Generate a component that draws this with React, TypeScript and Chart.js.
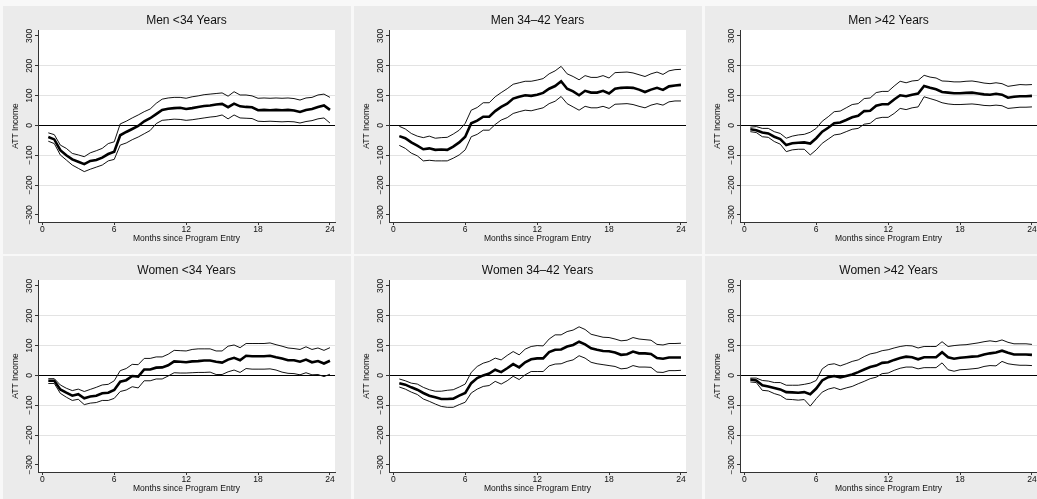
import React, { useEffect, useRef } from "react";
import { Chart, registerables } from "chart.js";

Chart.register(...registerables);

// ---------- data ----------
const months = [0.5, 1, 1.5, 2, 2.5, 3, 3.5, 4, 4.5, 5, 5.5, 6, 6.5, 7, 7.5, 8, 8.5, 9, 9.5, 10, 10.5, 11, 11.5, 12, 12.5, 13, 13.5, 14, 14.5, 15, 15.5, 16, 16.5, 17, 17.5, 18, 18.5, 19, 19.5, 20, 20.5, 21, 21.5, 22, 22.5, 23, 23.5, 24];

const xTicks = [0, 6, 12, 18, 24];
const xTickLabels = ["0", "6", "12", "18", "24"];
const yTicks = [-300, -200, -100, 0, 100, 200, 300];
const yTickLabels = ["\u2212300", "\u2212200", "\u2212100", "0", "100", "200", "300"];
const xAxisTitle = "Months since Program Entry";
const yAxisTitle = "ATT Income";

const panelTitles = ["Men <34 Years", "Men 34\u201342 Years", "Men >42 Years", "Women <34 Years", "Women 34\u201342 Years", "Women >42 Years"];

const menYoungMean = [-39, -47, -83, -100, -114, -122, -130, -119, -116, -108, -96, -88, -33, -22, -12, -2, 14, 24, 38, 52, 56, 58, 59, 55, 58, 62, 65, 67, 70, 72, 61, 73, 64, 62, 61, 51, 52, 51, 52, 51, 52, 50, 45, 52, 55, 62, 67, 52];
const menYoungUpper = [-25, -31, -66, -77, -94, -99, -105, -92, -85, -77, -61, -55, 5, 14, 25, 35, 46, 55, 74, 88, 92, 94, 94, 91, 96, 99, 103, 105, 107, 109, 98, 113, 102, 102, 99, 91, 92, 91, 92, 91, 92, 90, 85, 92, 94, 102, 105, 94];
const menYoungLower = [-53, -61, -99, -116, -133, -144, -155, -147, -140, -133, -119, -114, -66, -59, -48, -39, -28, -17, 6, 17, 19, 21, 20, 17, 19, 22, 25, 28, 30, 35, 22, 35, 25, 24, 23, 14, 13, 14, 13, 12, 13, 12, 8, 13, 16, 22, 25, 8];

const menMidMean = [-36, -43, -57, -68, -80, -77, -82, -81, -82, -71, -57, -38, 7, 16, 29, 29, 48, 62, 73, 90, 96, 101, 99, 103, 109, 123, 132, 148, 123, 114, 101, 116, 110, 110, 116, 107, 123, 126, 127, 126, 120, 112, 120, 126, 119, 131, 134, 136];
const menMidUpper = [-3, -12, -27, -36, -41, -36, -43, -41, -40, -29, -16, 7, 51, 60, 76, 76, 96, 110, 123, 138, 143, 148, 148, 152, 157, 173, 183, 198, 173, 164, 153, 167, 161, 161, 167, 159, 177, 178, 179, 176, 170, 164, 173, 179, 171, 183, 187, 188];
const menMidLower = [-67, -77, -93, -102, -119, -117, -119, -119, -119, -110, -99, -82, -38, -30, -16, -16, 3, 18, 26, 40, 46, 51, 49, 54, 59, 73, 81, 97, 73, 62, 51, 64, 59, 59, 64, 57, 71, 72, 73, 70, 64, 59, 68, 73, 68, 79, 82, 82];

const menOldMean = [-13, -16, -24, -27, -38, -46, -66, -60, -58, -57, -61, -43, -21, -8, 7, 10, 18, 27, 32, 48, 49, 66, 71, 71, 87, 101, 98, 103, 107, 132, 126, 121, 112, 110, 108, 108, 109, 110, 107, 104, 103, 106, 103, 93, 96, 98, 98, 99];
const menOldUpper = [-6, -4, -10, -10, -21, -27, -43, -36, -32, -30, -23, -10, 14, 29, 46, 48, 59, 70, 73, 90, 92, 110, 114, 114, 132, 148, 143, 149, 151, 168, 162, 159, 149, 148, 146, 146, 148, 149, 146, 142, 140, 143, 140, 131, 134, 137, 136, 137];
const menOldLower = [-21, -24, -38, -40, -54, -63, -88, -82, -80, -80, -99, -82, -60, -46, -32, -29, -21, -13, -10, 4, 7, 23, 27, 27, 40, 57, 53, 59, 62, 96, 90, 84, 76, 72, 70, 70, 71, 72, 70, 67, 66, 68, 66, 57, 59, 61, 61, 62];

const womenYoungMean = [-18, -18, -47, -58, -68, -63, -77, -71, -68, -60, -58, -49, -21, -16, -2, -4, 20, 20, 26, 27, 34, 47, 46, 44, 47, 48, 50, 50, 46, 43, 53, 59, 51, 66, 64, 64, 64, 66, 61, 57, 51, 51, 46, 53, 44, 48, 40, 49];
const womenYoungUpper = [-11, -11, -32, -43, -51, -46, -54, -47, -40, -32, -30, -18, 16, 23, 37, 36, 57, 57, 62, 62, 71, 84, 83, 82, 87, 89, 89, 89, 82, 82, 98, 102, 93, 107, 107, 107, 107, 109, 103, 98, 92, 90, 87, 96, 87, 92, 84, 93];
const womenYoungLower = [-27, -27, -60, -73, -84, -80, -98, -93, -91, -84, -84, -77, -54, -49, -38, -42, -18, -18, -12, -12, -2, 9, 8, 8, 9, 10, 10, 11, 3, 3, 12, 18, 10, 23, 21, 21, 21, 22, 18, 11, 7, 6, 2, 9, 2, 3, -4, 4];

const womenMidMean = [-26, -31, -40, -48, -59, -68, -73, -79, -79, -78, -68, -59, -26, -9, 0, 6, 19, 11, 24, 38, 27, 44, 54, 57, 57, 78, 86, 87, 97, 102, 113, 104, 91, 86, 82, 81, 77, 69, 71, 80, 74, 74, 72, 58, 56, 60, 60, 60];
const womenMidUpper = [-12, -18, -26, -29, -40, -48, -53, -53, -50, -48, -39, -29, 10, 30, 41, 47, 58, 52, 67, 80, 69, 88, 97, 100, 99, 122, 136, 136, 147, 152, 163, 154, 138, 133, 128, 127, 122, 116, 118, 127, 122, 120, 118, 104, 102, 107, 107, 108];
const womenMidLower = [-39, -46, -56, -64, -79, -87, -96, -104, -107, -107, -98, -90, -59, -46, -37, -34, -20, -29, -18, -3, -14, 2, 13, 13, 13, 32, 38, 39, 47, 52, 66, 58, 44, 39, 36, 33, 30, 22, 24, 33, 28, 28, 27, 11, 10, 16, 16, 17];

const womenOldMean = [-14, -17, -33, -37, -42, -47, -56, -57, -58, -56, -63, -44, -17, -6, -2, -7, -2, 3, 11, 20, 28, 33, 42, 44, 52, 58, 63, 61, 54, 61, 61, 61, 78, 61, 56, 59, 61, 63, 64, 70, 74, 77, 83, 76, 70, 70, 70, 69];
const womenOldUpper = [-9, -9, -17, -19, -24, -24, -33, -33, -33, -30, -26, -17, 22, 36, 39, 32, 39, 47, 52, 63, 72, 76, 83, 86, 92, 97, 100, 99, 92, 97, 97, 97, 113, 97, 100, 102, 103, 106, 109, 113, 116, 113, 119, 111, 106, 106, 106, 104];
const womenOldLower = [-22, -24, -50, -52, -61, -67, -80, -81, -83, -81, -103, -78, -56, -46, -41, -48, -42, -37, -28, -20, -11, -6, 6, 8, 17, 24, 28, 28, 22, 26, 26, 26, 42, 19, 14, 19, 20, 22, 24, 30, 33, 32, 47, 39, 36, 34, 34, 33];

const panelMeans = [menYoungMean, menMidMean, menOldMean, womenYoungMean, womenMidMean, womenOldMean];
const panelUppers = [menYoungUpper, menMidUpper, menOldUpper, womenYoungUpper, womenMidUpper, womenOldUpper];
const panelLowers = [menYoungLower, menMidLower, menOldLower, womenYoungLower, womenMidLower, womenOldLower];

// ---------- layout / style ----------
const PANEL_W = 348;
const PANEL_H = 248;
const panelLefts = [3, 354, 705];
const panelTops = [6, 256];
const FONT = '"Liberation Sans", Arial, Helvetica, sans-serif';
const PANEL_BG = "#ebebeb";
const AXIS_COLOR = "#333333";
const TEXT_COLOR = "#111111";

const bgPlugin = {
  id: "panelBg",
  beforeDraw(chart: any) {
    const { ctx, width, height, chartArea } = chart;
    ctx.save();
    ctx.fillStyle = PANEL_BG;
    ctx.fillRect(0, 0, width, height);
    ctx.fillStyle = "#ffffff";
    ctx.fillRect(chartArea.left, chartArea.top, chartArea.right - chartArea.left, chartArea.bottom - chartArea.top);
    ctx.restore();
  },
};

function makeTextPlugin(title: string) {
  return {
    id: "panelText",
    afterDraw(chart: any) {
      const { ctx, chartArea } = chart;
      const xs = chart.scales.x;
      const ys = chart.scales.y;
      const cx = (chartArea.left + chartArea.right) / 2;
      const cy = (chartArea.top + chartArea.bottom) / 2;
      ctx.save();
      ctx.fillStyle = TEXT_COLOR;
      ctx.textAlign = "center";
      ctx.textBaseline = "middle";
      // title
      ctx.font = `12px ${FONT}`;
      ctx.fillText(title, cx, 15);
      // x tick labels
      ctx.font = `8.5px ${FONT}`;
      xTicks.forEach((v, i) => {
        ctx.fillText(xTickLabels[i], xs.getPixelForValue(v), chartArea.bottom + 7.5);
      });
      // x title
      ctx.fillText(xAxisTitle, cx, chartArea.bottom + 17);
      // y tick labels (rotated)
      yTicks.forEach((v, i) => {
        ctx.save();
        ctx.translate(chartArea.left - 8.5, ys.getPixelForValue(v));
        ctx.rotate(-Math.PI / 2);
        ctx.fillText(yTickLabels[i], 0, 0);
        ctx.restore();
      });
      // y title
      ctx.save();
      ctx.translate(chartArea.left - 22, cy);
      ctx.rotate(-Math.PI / 2);
      ctx.fillText(yAxisTitle, 0, 0);
      ctx.restore();
      ctx.restore();
    },
  };
}

function Panel({ index }: { index: number }) {
  const ref = useRef<HTMLCanvasElement | null>(null);
  useEffect(() => {
    const canvas = ref.current;
    if (!canvas) return;
    const mean = panelMeans[index];
    const upper = panelUppers[index];
    const lower = panelLowers[index];
    const toPts = (arr: number[]) => months.map((m, i) => ({ x: m, y: arr[i] }));
    const chart = new Chart(canvas, {
      type: "line",
      data: {
        datasets: [
          { data: toPts(upper), borderColor: "#111111", borderWidth: 1, pointRadius: 0, tension: 0, fill: false },
          { data: toPts(lower), borderColor: "#111111", borderWidth: 1, pointRadius: 0, tension: 0, fill: false },
          { data: toPts(mean), borderColor: "#000000", borderWidth: 2.6, pointRadius: 0, tension: 0, fill: false },
        ],
      },
      options: {
        responsive: false,
        animation: false,
        devicePixelRatio: 1,
        layout: { padding: { top: 24, right: 16, left: 0, bottom: 0 } },
        plugins: { legend: { display: false }, tooltip: { enabled: false }, title: { display: false } },
        scales: {
          x: {
            type: "linear",
            min: -0.36,
            max: 24.42,
            afterBuildTicks: (s: any) => {
              s.ticks = xTicks.map((v) => ({ value: v }));
            },
            afterFit: (s: any) => {
              s.height = 32;
            },
            ticks: { display: false },
            grid: { drawOnChartArea: false, drawTicks: true, tickLength: 3, tickColor: AXIS_COLOR, tickWidth: 1 },
            border: { display: true, color: AXIS_COLOR, width: 1 },
          },
          y: {
            type: "linear",
            min: -324,
            max: 320,
            afterBuildTicks: (s: any) => {
              s.ticks = yTicks.map((v) => ({ value: v }));
            },
            afterFit: (s: any) => {
              s.width = 35;
            },
            ticks: { display: false },
            grid: {
              drawOnChartArea: true,
              drawTicks: true,
              tickLength: 3,
              tickColor: AXIS_COLOR,
              tickWidth: 1,
              lineWidth: 1,
              color: (c: any) => {
                const v = c.tick ? c.tick.value : null;
                if (v === 0) return "#000000";
                if (v === 300 || v === -300) return "rgba(0,0,0,0)";
                return "#e3e3e3";
              },
            },
            border: { display: true, color: AXIS_COLOR, width: 1 },
          },
        },
      } as any,
      plugins: [bgPlugin, makeTextPlugin(panelTitles[index])],
    });
    return () => chart.destroy();
  }, [index]);
  const col = index % 3;
  const row = Math.floor(index / 3);
  return (
    <canvas
      ref={ref}
      width={PANEL_W}
      height={PANEL_H}
      style={{ position: "absolute", left: panelLefts[col], top: panelTops[row], width: PANEL_W, height: PANEL_H }}
    />
  );
}

export default function App() {
  return (
    <div
      style={{
        position: "fixed",
        left: 0,
        top: 0,
        width: 1037,
        height: 499,
        overflow: "hidden",
        background: "#f8f8f8",
      }}
    >
      {[0, 1, 2, 3, 4, 5].map((i) => (
        <Panel key={i} index={i} />
      ))}
    </div>
  );
}
